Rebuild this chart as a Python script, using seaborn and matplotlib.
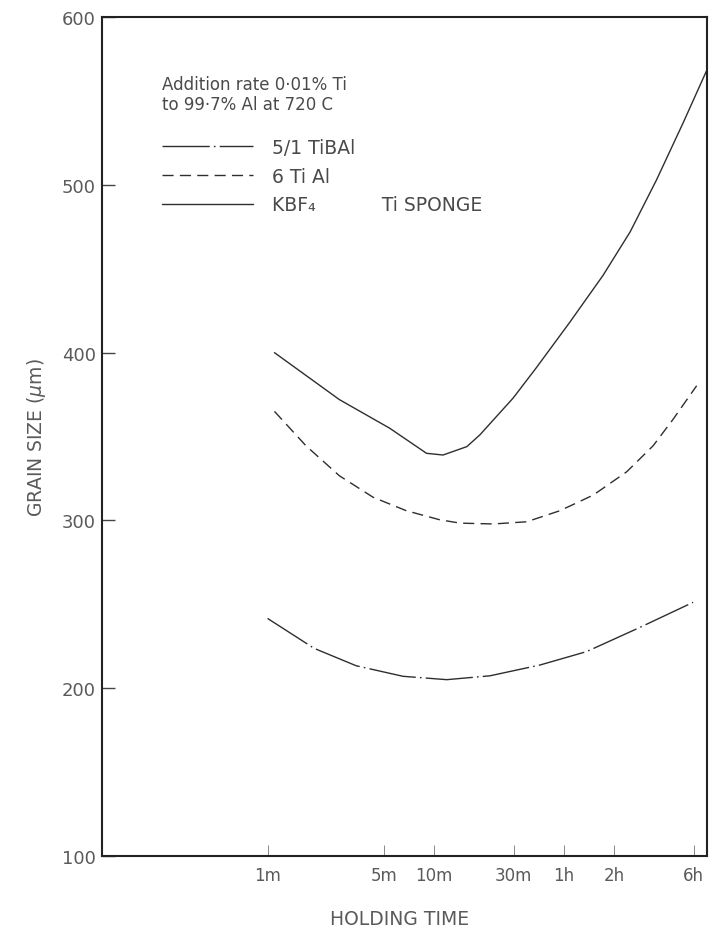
import matplotlib
matplotlib.use('Agg')
import matplotlib.pyplot as plt
from matplotlib.ticker import NullLocator
import seaborn as sns

# ----------------------- Data ---------------------
# holding time in minutes, grain size in um
tibal_t = [1.0, 1.9, 3.4, 6.5, 11.9, 21.6, 43, 82, 172, 358]
tibal_v = [241.6, 223.8, 213.4, 207.1, 205.1, 207.4, 213.8, 221.8, 236.3, 251.2]

tial_t = [1.1, 1.7, 2.7, 4.3, 6.8, 10.8, 14.3, 22.6, 35.9, 56.8, 90, 143, 206, 272, 376]
tial_v = [365, 344.5, 326.6, 313.8, 305.8, 300.4, 298.4, 297.9, 299.2, 305.8,
          315.1, 329, 344.5, 360.4, 380.3]

sponge_t = [1.1, 2.7, 5.4, 9.0, 11.3, 15.7, 18.8, 29.8, 41, 65, 103, 150, 216, 312, 431]
sponge_v = [400, 372, 355, 340, 339, 344, 351, 373, 391, 418, 446, 472, 503, 537, 568]

tick_minutes = [1, 5, 10, 30, 60, 120, 360]
tick_labels = ['1m', '5m', '10m', '30m', '1h', '2h', '6h']

NOTE = 'Addition rate 0·01% Ti\nto 99·7% Al at 720 C'
INK = '#2e2e2e'
TEXT = '#5a5a5a'

# ----------------------- Plot -------------------------------------------
sns.set_style('ticks')
plt.rcParams['font.family'] = ['DejaVu Sans']

fig = plt.figure(figsize=(7.09, 9.28), dpi=100)
ax = fig.add_axes([0.144, 0.0765, 0.853, 0.904])

sns.lineplot(x=tibal_t, y=tibal_v, ax=ax, color=INK, linewidth=1.0,
             linestyle=(0, (34, 3, 1.2, 3)), label='5/1 TiBAl', errorbar=None)
sns.lineplot(x=tial_t, y=tial_v, ax=ax, color=INK, linewidth=1.0,
             linestyle=(0, (8, 4.5)), label='6 Ti Al', errorbar=None)
sns.lineplot(x=sponge_t, y=sponge_v, ax=ax, color=INK, linewidth=1.0,
             linestyle='-', label='KBF₄           Ti SPONGE', errorbar=None)

ax.set_xscale('log')
ax.set_xlim(0.1016, 433)
ax.set_ylim(100, 600)
ax.set_xticks(tick_minutes, tick_labels)
ax.xaxis.set_minor_locator(NullLocator())
ax.set_yticks([100, 200, 300, 400, 500, 600])

ax.tick_params(axis='x', direction='in', length=8, width=0.7, color='#888888',
               pad=7, labelsize=12, labelcolor=TEXT)
ax.tick_params(axis='y', direction='in', length=9.5, width=1.0, color='#444444',
               pad=4.5, labelsize=13, labelcolor=TEXT)
for sp in ax.spines.values():
    sp.set_linewidth(1.5)
    sp.set_color('#222222')

ax.set_ylabel('GRAIN SIZE ($\\mu$m)', fontsize=13.5, color=TEXT)
ax.yaxis.set_label_coords(-0.089, 0.5)
ax.set_xlabel('HOLDING TIME', fontsize=13.5, color=TEXT)
ax.xaxis.set_label_coords(0.4926, -0.0632)

ax.text(0.099, 0.931, NOTE, transform=ax.transAxes, va='top', ha='left',
        fontsize=12, color='#4a4a4a', linespacing=1.12)
ax.legend(loc='upper left', bbox_to_anchor=(0.099, 0.856), frameon=False,
          borderaxespad=0, borderpad=0, handlelength=4.85, handletextpad=1.0,
          labelspacing=0.52, fontsize=13.5, labelcolor='#4a4a4a')

plt.savefig('out.png', dpi=100)
